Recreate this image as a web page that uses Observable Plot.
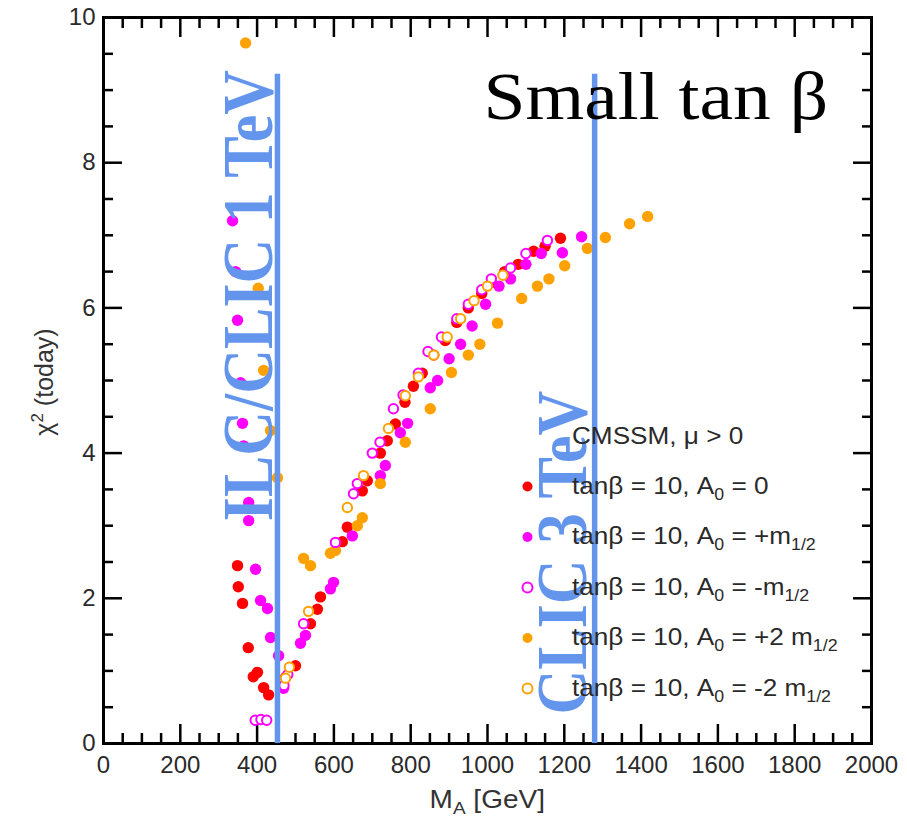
<!DOCTYPE html>
<html>
<head>
<meta charset="utf-8">
<script src="https://cdn.jsdelivr.net/npm/d3@7"></script>
<script src="https://cdn.jsdelivr.net/npm/@observablehq/plot@0.6"></script>
<style>
  html, body { margin: 0; padding: 0; background: white; }
</style>
</head>
<body>
<div id="chart"></div>
<script>
// ---- Data (M_A in GeV, chi^2 today) ----
const seriesA0zero = [ // tanβ=10, A0=0 (red filled)
  [349,2.45],[351,2.16],[362,1.93],[377,1.32],[390,0.92],[401,0.98],[417,0.77],[430,0.67],
  [474,0.91],[500,1.07],[539,1.65],[557,1.85],[565,2.02],[622,2.78],[635,2.98],[674,3.48],
  [687,3.62],[721,4.0],[739,4.17],[760,4.4],[785,4.7],[807,4.92],[830,5.1],[860,5.35],
  [890,5.55],[920,5.8],[950,6.0],[985,6.2],[1010,6.35],[1045,6.5],[1080,6.6],[1120,6.78],
  [1150,6.85],[1190,6.96]
];
const seriesA0plus = [ // tanβ=10, A0=+m1/2 (magenta filled)
  [336,7.2],[344,6.5],[349,5.83],[357,4.97],[362,4.41],[365,4.1],[378,3.32],[378,3.07],
  [396,2.4],[409,1.97],[427,1.86],[435,1.46],[456,1.21],[469,0.76],[513,1.38],[526,1.49],
  [591,2.13],[599,2.22],[648,2.86],[721,3.69],[734,3.83],[773,4.28],[792,4.41],[851,4.9],
  [870,5.0],[900,5.3],[930,5.5],[960,5.75],[995,6.05],[1030,6.3],[1060,6.4],[1100,6.6],
  [1140,6.75],[1195,6.76],[1245,6.98]
];
const seriesA0minus = [ // tanβ=10, A0=-m1/2 (magenta open)
  [395,0.32],[410,0.33],[425,0.32],[470,0.8],[480,0.95],[521,1.65],[604,2.77],[651,3.44],
  [661,3.58],[700,4.0],[720,4.15],[755,4.61],[780,4.8],[820,5.1],[845,5.4],[880,5.6],
  [920,5.85],[950,6.05],[985,6.25],[1010,6.4],[1060,6.55],[1100,6.75],[1156,6.93]
];
const seriesA0plus2 = [ // tanβ=10, A0=+2 m1/2 (orange filled)
  [370,9.65],[403,6.27],[417,5.14],[435,4.31],[453,3.66],[521,2.55],[539,2.45],[591,2.62],
  [604,2.66],[661,3.0],[674,3.11],[721,3.58],[786,4.15],[851,4.61],[906,5.11],[950,5.35],
  [980,5.5],[1026,5.79],[1089,6.13],[1130,6.3],[1160,6.4],[1201,6.58],[1260,6.82],
  [1307,6.97],[1370,7.16],[1417,7.26]
];
const seriesA0minus2 = [ // tanβ=10, A0=-2 m1/2 (orange open)
  [474,0.9],[484,1.05],[534,1.82],[635,3.25],[677,3.69],[742,4.34],[786,4.79],[820,5.05],
  [860,5.35],[895,5.6],[930,5.85],[965,6.1],[1000,6.3],[1040,6.45]
];

// Collider reach lines (M_A in GeV)
const reachLines = [453, 1279];
const reachLabels = ["ILC/CLIC 1 TeV", "CLIC 3 TeV"];
const titleText = "Small tan β";

// Axis ticks
const xMajorTicks = [0,200,400,600,800,1000,1200,1400,1600,1800,2000];
const yMajorTicks = [0,2,4,6,8,10];
const xMinorTicks = d3.range(0, 2001, 50).filter(v => v % 200 !== 0);
const yMinorTicks = d3.range(0, 10.01, 0.5).filter(v => v % 2 !== 0);

// Legend
const legendHeader = "CMSSM, μ > 0";
const legendColors = ["#ff0000", "#ff00ff", "#ff00ff", "#ffa200", "#ffa200"];
const legendFilled = [true, true, false, true, false];
const legendA0 = ["0", "+m", "-m", "+2 m", "-2 m"];

const RED = "#ff0000", MAG = "#ff00ff", ORA = "#ffa200", BLUE = "#6495ed";
const px = d => d[0], py = d => d[1];
const tickStyle = {stroke: "black", strokeWidth: 2.5, label: null};
const textStyle = {fontSize: 24, fill: "#2a2a2a", label: null, tickFormat: d3.format("d")};
const serif = "'Liberation Serif', 'Times New Roman', serif";

const legendMarks = legendColors.map((c, i) => Plot.dot([i], {
  frameAnchor: "top-left", dx: 424, dy: 469 + i * 50.5, r: 5,
  fill: legendFilled[i] ? c : "white", stroke: c, strokeWidth: legendFilled[i] ? 0 : 2
}));

const chart = Plot.plot({
  width: 907, height: 820,
  marginLeft: 103, marginRight: 36, marginTop: 17, marginBottom: 77,
  style: {fontFamily: "'Liberation Sans', Arial, sans-serif", background: "white"},
  x: {domain: [0, 2000]},
  y: {domain: [0, 10]},
  marks: [
    Plot.axisX(xMinorTicks, {anchor: "bottom", tickSize: -10, text: null, ...tickStyle}),
    Plot.axisX(xMajorTicks, {anchor: "bottom", tickSize: -19, tickPadding: 31, ...tickStyle, ...textStyle}),
    Plot.axisX(xMinorTicks, {anchor: "top", tickSize: -10, text: null, ...tickStyle}),
    Plot.axisX(xMajorTicks, {anchor: "top", tickSize: -19, text: null, ...tickStyle}),
    Plot.axisY(yMinorTicks, {anchor: "left", tickSize: -10, text: null, ...tickStyle}),
    Plot.axisY(yMajorTicks, {anchor: "left", tickSize: -19, tickPadding: 27, ...tickStyle, ...textStyle}),
    Plot.axisY(yMinorTicks, {anchor: "right", tickSize: -10, text: null, ...tickStyle}),
    Plot.axisY(yMajorTicks, {anchor: "right", tickSize: -19, text: null, ...tickStyle}),
    Plot.frame({stroke: "black", strokeWidth: 3}),

    Plot.dot(seriesA0zero, {x: px, y: py, r: 5.7, fill: RED}),
    Plot.dot(seriesA0plus, {x: px, y: py, r: 5.7, fill: MAG}),
    Plot.dot(seriesA0plus2, {x: px, y: py, r: 5.7, fill: ORA}),
    Plot.dot(seriesA0minus, {x: px, y: py, r: 4.7, fill: "white", stroke: MAG, strokeWidth: 2}),
    Plot.dot(seriesA0minus2, {x: px, y: py, r: 4.7, fill: "white", stroke: ORA, strokeWidth: 2}),

    ...legendMarks,

    Plot.ruleX(reachLines, {x: d => d, y1: 0, y2: 9.22, stroke: BLUE, strokeWidth: 5.5}),
    Plot.text([reachLabels[0]], {x: 443, y: 6.17, rotate: -90, text: d => d,
      fontFamily: serif, fontWeight: "bold",
      fontSize: 62, fill: BLUE, textAnchor: "middle", lineAnchor: "bottom"}),
    Plot.text([reachLabels[1]], {x: 1262, y: 2.63, rotate: -90, text: d => d,
      fontFamily: serif, fontWeight: "bold",
      fontSize: 62, fill: BLUE, textAnchor: "middle", lineAnchor: "bottom"}),
    Plot.text([titleText], {x: 990, y: 8.6, text: d => d,
      fontFamily: serif,
      fontSize: 68, fill: "black", textAnchor: "start", lineAnchor: "bottom"})
  ]
});

document.getElementById("chart").appendChild(chart);

// ---- helpers ----
const svg = d3.select(chart);
const NS = "http://www.w3.org/2000/svg";
function stretchX(el, s, side) {
  const sr = chart.getBoundingClientRect();
  const r = el.getBoundingClientRect();
  const p = (side === "left" ? r.left : r.right) - sr.left;
  const g = document.createElementNS(NS, "g");
  el.parentNode.insertBefore(g, el);
  g.appendChild(el);
  g.setAttribute("transform", `translate(${p},0) scale(${s},1) translate(${-p},0)`);
}
function findText(str) {
  return Array.from(chart.querySelectorAll("text")).filter(t => t.textContent === str);
}
function richText(x, y, parts, opts = {}) {
  const size = opts.size || 24;
  const t = svg.append("text")
    .attr("x", x).attr("y", y)
    .attr("font-family", "'Liberation Sans', Arial, sans-serif")
    .attr("font-size", size)
    .attr("fill", opts.fill || "#2a2a2a")
    .attr("text-anchor", opts.anchor || "start");
  if (opts.transform) t.attr("transform", opts.transform);
  let shift = 0;
  for (const [s, mode] of parts) {
    const ts = t.append("tspan").text(s);
    const target = mode === "sub" ? 6 : mode === "sup" ? -10 : 0;
    if (mode) ts.attr("font-size", size * 0.68);
    if (target !== shift) { ts.attr("dy", target - shift); shift = target; }
  }
  return t.node();
}

// Legend texts
const legendNodes = [richText(572, 444, [[legendHeader, null]])];
legendA0.forEach((a, i) => {
  const parts = [["tanβ = 10, A", null], ["0", "sub"], [" = " + a, null]];
  if (a !== "0") parts.push(["1/2", "sub"]);
  legendNodes.push(richText(572, 494 + i * 50.5, parts));
});
legendNodes.forEach(n => stretchX(n, 1.09, "left"));

// Axis labels
const xl = richText(488, 808, [["M", null], ["A", "sub"], [" [GeV]", null]],
  {anchor: "middle", fill: "#333", size: 25});
stretchX(xl, 1.12, "left");
const xr = xl.getBoundingClientRect(), cr = chart.getBoundingClientRect();
xl.parentNode.setAttribute("transform",
  xl.parentNode.getAttribute("transform") + ` translate(${488 - ((xr.left + xr.right) / 2 - cr.left)},0)`);
richText(0, 0, [["χ", null], ["2", "sup"], [" (today)", null]],
  {anchor: "middle", fill: "#333", size: 25, transform: "translate(53,382) rotate(-90)"});

// Horizontal stretch of the annotation lettering
findText(titleText).forEach(n => stretchX(n, 1.11, "left"));
findText(reachLabels[0]).forEach(n => stretchX(n, 1.15, "right"));
findText(reachLabels[1]).forEach(n => stretchX(n, 1.15, "right"));
</script>
</body>
</html>
